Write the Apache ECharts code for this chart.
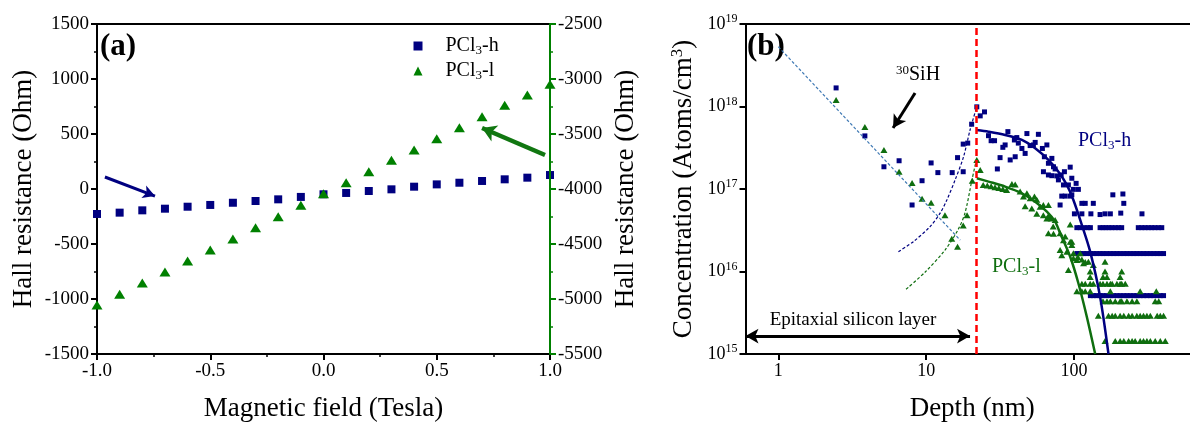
<!DOCTYPE html>
<html>
<head>
<meta charset="utf-8">
<title>Hall resistance / depth profile</title>
<script src="https://cdn.jsdelivr.net/npm/echarts@6.0.0/dist/echarts.min.js"></script>
<style>
  html, body { margin: 0; padding: 0; background: #fff; }
  #main { width: 1190px; height: 424px; }
</style>
</head>
<body>
<div id="main"></div>
<script>
const FONT = 'Liberation Serif'
const NAVY = '#000080'
const GREEN = '#008000'
const DKGREEN = '#0f6e0f'

// ---- panel (a): Hall resistance vs field
const fieldTesla = [-1.0, -0.9, -0.8, -0.7, -0.6, -0.5, -0.4, -0.3, -0.2, -0.1, 0.0, 0.1, 0.2, 0.3, 0.4, 0.5, 0.6, 0.7, 0.8, 0.9, 1.0]
const hallHigh = [-227, -215, -194, -179, -161, -145, -125, -109, -94, -72, -48, -36, -18, -3, 21, 42, 57, 73, 88, 103, 127]
const hallLow = [-5054, -4957, -4855, -4755, -4655, -4555, -4455, -4352, -4252, -4148, -4043, -3943, -3843, -3739, -3645, -3543, -3443, -3343, -3239, -3146, -3048]
const arrowHigh = [[-0.965, 109], [-0.744, -64]]
const arrowLow = [[0.978, -3691], [0.7, -3445]]

// ---- panel (b): SIMS depth profile  [depth nm, atoms/cm3]
const hPoints = [
  [2.46, 1.68e18], [3.85, 4.4e17], [5.18, 1.86e17], [6.56, 2.2e17], [8.03, 6.4e16], [9.38, 1.26e17], [10.8, 2.07e17],
  [12.0, 1.58e17], [15.0, 1.58e17], [16.3, 2.4e17], [17.8, 3.5e17], [17.8, 1.62e17], [19.1, 3.6e17], [20.3, 6.1e17],
  [22.0, 9.9e17], [23.2, 7.7e17], [24.8, 8.6e17], [26.4, 4.43e17], [27.5, 3.85e17], [29.0, 3.85e17], [35.7, 4.96e17],
  [34.2, 3.42e17], [33.0, 3.2e17], [39.5, 3.93e17], [41.0, 4.2e17], [42.0, 3.6e17], [48.0, 4.7e17], [57.4, 4.6e17],
  [54.6, 3.67e17], [53.1, 3.42e17], [50.5, 3.36e17], [44.4, 3.1e17], [46.7, 2.7e17], [61.1, 3.1e17], [65.5, 3.42e17],
  [31.6, 2.4e17], [37.0, 2.25e17], [40.0, 2.46e17], [30.3, 1.75e17], [63.0, 2.46e17], [70.8, 2.35e17], [67.1, 2.05e17],
  [72.6, 1.86e17], [74.5, 1.75e17], [62.1, 1.62e17], [67.1, 1.48e17], [70.8, 1.45e17], [76.5, 1.44e17], [81.8, 1.48e17],
  [86.1, 1.62e17], [78.4, 1.29e17], [96.6, 1.35e17], [84.8, 1.12e17], [91.6, 1.12e17], [82.6, 8.2e16], [87.1, 8.2e16],
  [94.2, 8.2e16], [80.5, 6.4e16], [100.6, 5.0e16], [94.2, 1.84e17], [103.3, 1.17e17], [99.0, 9.9e16], [107, 9.9e16],
  [96.6, 8.5e16], [113, 6.7e16], [119, 6.7e16], [135, 6.7e16], [183, 8.5e16], [214, 8.7e16], [217, 6.7e16],
  [113, 5.0e16], [130, 5.0e16], [150, 4.9e16], [162, 5.0e16], [176, 5.0e16], [207, 5.1e16], [288, 5.0e16]
]
const hRow34 = [104.5, 110, 117, 124, 129, 150, 157, 164, 172, 180, 190, 200, 210, 272, 287, 302, 318, 335, 352, 372, 392]
const hRow165 = [104.5, 110, 116, 122, 129, 135, 142, 150, 157, 166, 176, 185, 195, 205, 217, 228, 240, 253, 266, 280, 295, 311, 328, 346, 365, 383, 403]
const hRow51 = [129, 135, 142, 150, 157, 166, 176, 185, 195, 205, 217, 228, 240, 253, 266, 280, 295, 311, 328, 346, 365, 383, 403]

const lPoints = [
  [2.46, 1.2e18], [3.85, 5.65e17], [5.18, 2.97e17], [6.56, 1.62e17], [8.03, 1.18e17], [9.38, 7.6e16], [10.8, 6.8e16],
  [13.4, 4.8e16], [14.9, 2.5e16], [16.3, 2.0e16], [17.8, 3.6e16], [18.9, 4.8e16], [20.5, 1.26e17], [22.0, 2.25e17],
  [23.2, 1.7e17], [24.3, 1.12e17], [25.9, 1.1e17], [27.5, 1.08e17], [29.2, 1.05e17], [31.0, 1.03e17], [33.0, 1.0e17],
  [35.0, 9.7e16], [38.0, 1.15e17], [40.0, 1.13e17], [43.2, 9.3e16], [45.5, 8.1e16], [48.0, 8.9e16], [50.5, 7.7e16],
  [54.0, 8.1e16], [56.0, 7.4e16], [46.7, 6.2e16], [51.8, 5.8e16], [59.0, 6.1e16], [62.0, 6.4e16], [67.1, 6.4e16],
  [56.0, 5.0e16], [62.0, 4.8e16], [67.1, 4.7e16], [70.0, 4.4e16], [74.5, 4.2e16], [65.5, 4.4e16], [72.3, 3.5e16],
  [67.1, 2.9e16], [80.5, 2.9e16], [87.1, 2.65e16], [94.2, 3.7e16], [96.6, 2.3e16], [80.5, 1.82e16], [89.4, 1.74e16],
  [99, 1.67e16], [110, 1.67e16], [91.6, 1.04e16], [104.5, 1.38e16], [116, 1.26e16], [125, 1.31e16], [135, 1.2e16],
  [162, 1.31e16], [84.8, 2.4e16], [82.6, 1.57e16], [96.6, 2.1e16], [72.6, 2.87e16], [94.2, 2.3e16], [99, 1.45e16],
  [106, 1.5e16], [113, 1.4e16], [119, 1.3e16]
]
const lRow100 = [128.6, 162, 210]
const lRow86 = [128.6, 157, 167, 205]
const lRow71 = [113, 119, 128.6, 135, 150, 157, 167, 176, 181, 195, 205, 210, 222]
const lRow58 = [104.5, 113, 119, 128.6, 176, 280, 360]
const lRow44 = [157, 167, 176, 190, 205, 210, 228, 247, 266, 354, 374]
const lRow29 = [146, 171, 181, 190, 205, 217, 234, 247, 266, 280, 295, 311, 328, 365, 383, 403]
const lRow14 = [162, 190, 205, 217, 234, 247, 259, 280, 295, 311, 328, 354, 383, 414]

const siFit = [[1.0, 5.3e18], [17, 2.4e16]]
const hDash = [[6.49, 1.74e16], [8.19, 2.3e16], [10.6, 3.49e16], [12.4, 5.07e16], [13.8, 7.36e16], [15.7, 1.29e17], [17.9, 2.46e17], [19.8, 5.19e17], [22.0, 9.95e17]]
const lDash = [[7.31, 6.08e15], [9.85, 9.86e15], [13.4, 1.82e16], [16.4, 3.19e16], [18.3, 5.12e16], [20.4, 1.29e17], [22.0, 2.38e17]]
const hFit = [[22.0, 5.19e17], [26.4, 4.95e17], [34.2, 4.52e17], [44.4, 3.93e17], [54.6, 3.11e17], [67.1, 2.25e17], [78.4, 1.62e17], [89.4, 1.12e17], [99, 7.36e16], [113, 3.66e16], [128.6, 1.74e16], [150, 4.95e15], [171, 1.0e15]]
const lFit = [[22.0, 1.35e17], [26.4, 1.23e17], [34.2, 1.07e17], [44.4, 8.87e16], [54.6, 7.02e16], [65.5, 5.31e16], [74.5, 4.02e16], [80.5, 2.91e16], [94.2, 1.51e16], [107, 7.2e15], [122, 2.83e15], [139, 1.0e15]]
const interfaceDepth = 21.7
const siArrow = [[8.41, 1.46e18], [5.97, 5.48e17]]
const epiArrow = [[0.6, 1.65e15], [19.8, 1.65e15]]

const row = (depths, c) => depths.map(d => [d, c])
const hAll = hPoints.concat(row(hRow34, 3.4e16), row(hRow165, 1.65e16), row(hRow51, 5.1e15))
const lAll = lPoints.concat(row(lRow100, 1.0e16), row(lRow86, 8.6e15), row(lRow71, 7.1e15), row(lRow58, 5.75e15),
  row(lRow44, 4.35e15), row(lRow29, 2.9e15), row(lRow14, 1.44e15))

const blackLine = { onZero: false, lineStyle: { color: '#000', width: 2 } }
const tick = color => ({ length: 6, lineStyle: { color, width: 2 } })
const minor = color => ({ show: true, splitNumber: 2, length: 3, lineStyle: { color, width: 1.5 } })
const label = size => ({ fontFamily: FONT, fontSize: size, color: '#000', margin: 8 })
const nameStyle = { fontFamily: FONT, fontSize: 27, color: '#000' }
const border = (gridIndex, type, min, max) => ({
  gridIndex, type, min, max, position: 'top', axisLine: blackLine,
  axisTick: { show: false }, axisLabel: { show: false }, splitLine: { show: false }
})
const arrow = (coords, color, width, size) => ({
  silent: true, animation: false, symbol: ['none', 'arrow'], symbolSize: size,
  label: { show: false }, lineStyle: { color, width, type: 'solid' },
  data: [[{ coord: coords[0] }, { coord: coords[1] }]]
})

const chart = echarts.init(document.getElementById('main'))
const option = {
  animation: false,
  grid: [
    { left: 97, right: 640, top: 24, bottom: 70, containLabel: false, outerBoundsMode: 'none' },
    { left: 745.5, right: -9, top: 24, bottom: 70, containLabel: false, outerBoundsMode: 'none' }
  ],
  legend: {
    data: ['PCl3-h', 'PCl3-l'],
    selectedMode: false,
    orient: 'vertical',
    left: 408.5,
    top: 30,
    itemWidth: 9,
    itemHeight: 9,
    itemGap: 3,
    formatter: n => '{g| }' + n.replace('3', '{sub|3}'),
    textStyle: {
      fontFamily: FONT, fontSize: 20, color: '#000', lineHeight: 22,
      rich: {
        g: { width: 18 },
        sub: { fontFamily: FONT, fontSize: 13, lineHeight: 13, verticalAlign: 'bottom', color: '#000' }
      }
    }
  },
  xAxis: [
    {
      gridIndex: 0, type: 'value', min: -1, max: 1, interval: 0.5, position: 'bottom',
      axisLine: blackLine, axisTick: tick('#000'), minorTick: minor('#000'),
      axisLabel: Object.assign(label(19), { formatter: v => v.toFixed(1) }),
      splitLine: { show: false },
      name: 'Magnetic field (Tesla)', nameLocation: 'middle', nameGap: 41, nameTextStyle: nameStyle
    },
    border(0, 'value', -1, 1),
    {
      gridIndex: 1, type: 'log', logBase: 10, min: 0.6, max: 700, position: 'bottom',
      axisLine: blackLine, axisTick: tick('#000'),
      axisLabel: Object.assign(label(18), { formatter: v => String(Math.round(v)), showMinLabel: false, showMaxLabel: false }),
      splitLine: { show: false },
      name: 'Depth (nm)', nameLocation: 'middle', nameGap: 41, nameTextStyle: nameStyle
    },
    border(1, 'log', 0.6, 700)
  ],
  yAxis: [
    {
      gridIndex: 0, type: 'value', min: -1500, max: 1500, interval: 500, position: 'left',
      axisLine: blackLine, axisTick: tick('#000'), minorTick: minor('#000'),
      axisLabel: Object.assign(label(19), { formatter: v => String(v) }),
      splitLine: { show: false },
      name: 'Hall resistance (Ohm)', nameLocation: 'middle', nameGap: 60, nameRotate: 90, nameTextStyle: nameStyle
    },
    {
      gridIndex: 0, type: 'value', min: -5500, max: -2500, interval: 500, position: 'right', z: 5,
      axisLine: { onZero: false, lineStyle: { color: GREEN, width: 2 } },
      axisTick: tick(GREEN), minorTick: minor(GREEN),
      axisLabel: Object.assign(label(19), { formatter: v => String(v) }),
      splitLine: { show: false },
      name: 'Hall resistance (Ohm)', nameLocation: 'middle', nameGap: 62, nameRotate: 90, nameTextStyle: nameStyle
    },
    {
      gridIndex: 1, type: 'log', logBase: 10, min: 1e15, max: 1e19, position: 'left',
      axisLine: blackLine, axisTick: tick('#000'),
      axisLabel: Object.assign(label(18), {
        formatter: v => '{b|10}{s|' + Math.round(Math.log10(v)) + '}',
        rich: {
          b: { fontFamily: FONT, fontSize: 18, lineHeight: 22, color: '#000' },
          s: { fontFamily: FONT, fontSize: 12, lineHeight: 12, verticalAlign: 'top', color: '#000' }
        }
      }),
      splitLine: { show: false },
      name: '{m|Concentration (Atoms/cm}{s|3}{m|)}', nameLocation: 'middle', nameGap: 48, nameRotate: 90,
      nameTextStyle: Object.assign({}, nameStyle, {
        rich: {
          m: { fontFamily: FONT, fontSize: 27, lineHeight: 28, color: '#000' },
          s: { fontFamily: FONT, fontSize: 17, lineHeight: 17, verticalAlign: 'top', color: '#000' }
        }
      })
    }
  ],
  graphic: [
    { type: 'text', x: 100, y: 47, style: { text: '(a)', fontFamily: FONT, fontSize: 31, fontWeight: 'bold', fill: '#000', verticalAlign: 'middle' } },
    { type: 'text', x: 747, y: 47, style: { text: '(b)', fontFamily: FONT, fontSize: 31, fontWeight: 'bold', fill: '#000', verticalAlign: 'middle' } },
    {
      type: 'text', x: 896, y: 75,
      style: {
        text: '{s|30}{m|SiH}', verticalAlign: 'middle', fill: '#000',
        rich: {
          s: { fontFamily: FONT, fontSize: 13, lineHeight: 13, verticalAlign: 'top', fill: '#000' },
          m: { fontFamily: FONT, fontSize: 20, lineHeight: 22, fill: '#000' }
        }
      }
    },
    {
      type: 'text', x: 1078, y: 141,
      style: {
        text: '{m|PCl}{s|3}{m|-h}', verticalAlign: 'middle', fill: NAVY,
        rich: {
          m: { fontFamily: FONT, fontSize: 20, lineHeight: 22, fill: NAVY },
          s: { fontFamily: FONT, fontSize: 13, lineHeight: 13, verticalAlign: 'bottom', fill: NAVY }
        }
      }
    },
    {
      type: 'text', x: 992, y: 267,
      style: {
        text: '{m|PCl}{s|3}{m|-l}', verticalAlign: 'middle', fill: DKGREEN,
        rich: {
          m: { fontFamily: FONT, fontSize: 20, lineHeight: 22, fill: DKGREEN },
          s: { fontFamily: FONT, fontSize: 13, lineHeight: 13, verticalAlign: 'bottom', fill: DKGREEN }
        }
      }
    },
    {
      type: 'text', x: 853, y: 320,
      style: { text: 'Epitaxial silicon layer', fontFamily: FONT, fontSize: 19, fill: '#000', align: 'center', verticalAlign: 'middle' }
    }
  ],
  series: [
    {
      name: 'PCl3-h', type: 'scatter', xAxisIndex: 0, yAxisIndex: 0,
      symbol: 'rect', symbolSize: 8, itemStyle: { color: NAVY, opacity: 1 },
      data: fieldTesla.map((x, i) => [x, hallHigh[i]]),
      markLine: arrow(arrowHigh, NAVY, 3, [10, 12])
    },
    {
      name: 'PCl3-l', type: 'scatter', xAxisIndex: 0, yAxisIndex: 1,
      symbol: 'triangle', symbolSize: [11, 9], itemStyle: { color: GREEN, opacity: 1 },
      data: fieldTesla.map((x, i) => [x, hallLow[i]]),
      markLine: arrow(arrowLow, '#117711', 4.5, [13, 14])
    },
    {
      name: 'SIMS h', type: 'scatter', xAxisIndex: 2, yAxisIndex: 2,
      symbol: 'rect', symbolSize: 5, itemStyle: { color: NAVY, opacity: 1 }, data: hAll
    },
    {
      name: 'SIMS l', type: 'scatter', xAxisIndex: 2, yAxisIndex: 2,
      symbol: 'triangle', symbolSize: [7, 6], itemStyle: { color: DKGREEN, opacity: 1 }, data: lAll
    },
    {
      name: '30SiH fit', type: 'line', xAxisIndex: 2, yAxisIndex: 2, showSymbol: false, data: siFit,
      lineStyle: { color: '#3f79b4', width: 1.2, type: [3, 2] },
      markLine: arrow(siArrow, '#000', 3, [11, 13])
    },
    {
      name: 'h dash', type: 'line', xAxisIndex: 2, yAxisIndex: 2, showSymbol: false, smooth: 0.3, data: hDash,
      lineStyle: { color: NAVY, width: 1.2, type: [3, 2] }
    },
    {
      name: 'l dash', type: 'line', xAxisIndex: 2, yAxisIndex: 2, showSymbol: false, smooth: 0.3, data: lDash,
      lineStyle: { color: DKGREEN, width: 1.2, type: [3, 2] }
    },
    {
      name: 'h fit', type: 'line', xAxisIndex: 2, yAxisIndex: 2, showSymbol: false, smooth: 0.3, data: hFit,
      lineStyle: { color: NAVY, width: 2.5 }
    },
    {
      name: 'l fit', type: 'line', xAxisIndex: 2, yAxisIndex: 2, showSymbol: false, smooth: 0.3, data: lFit,
      lineStyle: { color: DKGREEN, width: 2.5 },
      markLine: {
        silent: true, animation: false, symbol: ['none', 'none'], label: { show: false },
        lineStyle: { color: '#ff0000', width: 2.5, type: [7, 4] },
        data: [{ xAxis: interfaceDepth }]
      }
    },
    {
      name: 'epi', type: 'line', xAxisIndex: 2, yAxisIndex: 2, showSymbol: false, data: [],
      markLine: Object.assign(arrow(epiArrow, '#000', 3, [11, 13]), { symbol: ['arrow', 'arrow'] })
    }
  ]
}
chart.setOption(option)
</script>
</body>
</html>
